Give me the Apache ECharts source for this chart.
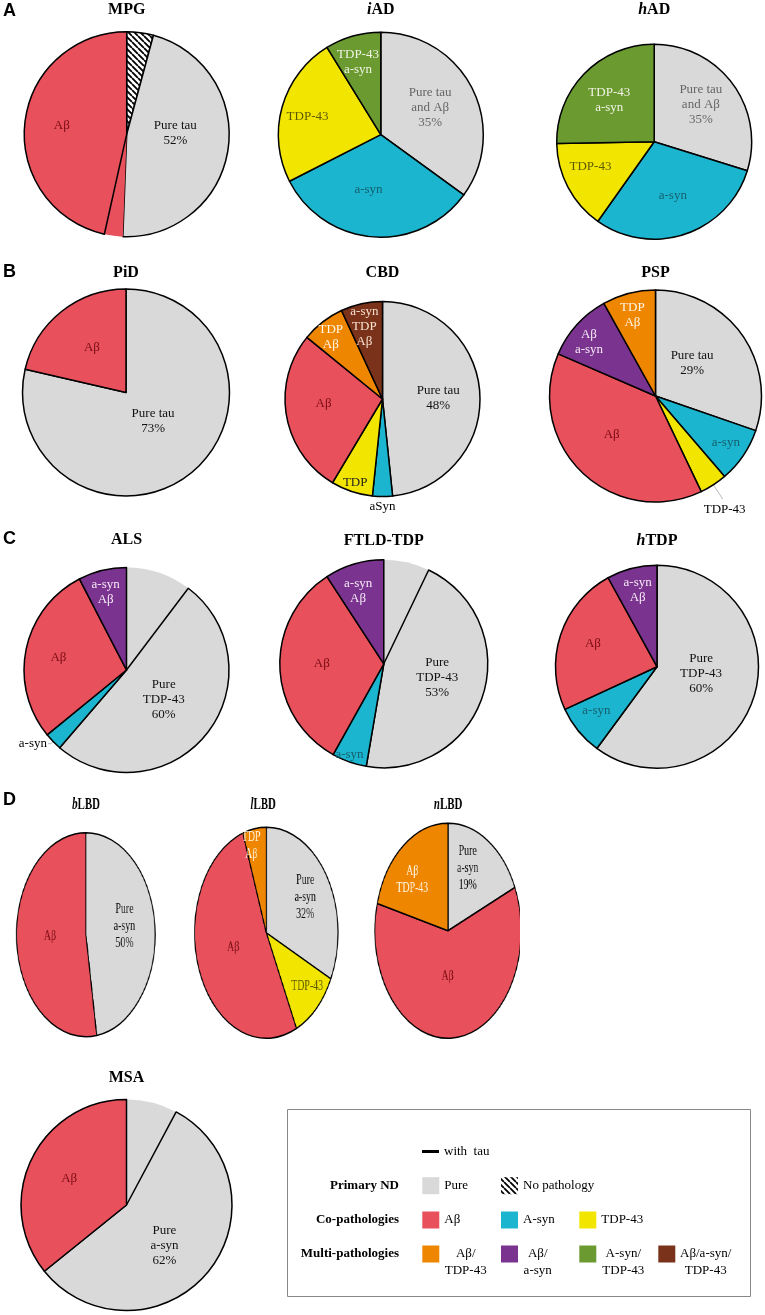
<!DOCTYPE html>
<html><head><meta charset="utf-8">
<script src="https://cdn.jsdelivr.net/npm/echarts@6/dist/echarts.min.js"></script>
<style>
html,body{margin:0;padding:0;background:#fff;}
#main{position:absolute;left:0;top:0;width:765px;height:1315px;}
#rowD{position:absolute;left:0;top:790px;width:765px;height:260px;transform:scaleX(0.68);transform-origin:0 0;}
</style></head><body>
<div id="main"></div><div id="rowD"></div>
<script>
// ---------------- DATA ----------------
const pieTitles = ['MPG','iAD','hAD','PiD','CBD','PSP','ALS','FTLD-TDP','hTDP','bLBD','lLBD','nLBD','MSA'];

const mpgKinds  = ['none','pure','ab','ab'];
const mpgValues = [4.2, 46.4, 2.9, 46.5];
const mpgTau    = [1,1,0,1];
const mpgLabels = ['', 'Pure tau\n52%', '', 'Aβ'];

const iadKinds  = ['pure','asyn','tdp','asyn_tdp'];
const iadValues = [35, 32.5, 23.7, 8.8];
const iadTau    = [1,1,1,1];
const iadLabels = ['Pure tau\nand Aβ\n35%','a-syn','TDP-43','TDP-43\na-syn'];

const hadKinds  = ['pure','asyn','tdp','asyn_tdp'];
const hadValues = [29.8, 30, 14.9, 25.3];
const hadTau    = [1,1,1,1];
const hadLabels = ['Pure tau\nand Aβ\n35%','a-syn','TDP-43','TDP-43\na-syn'];

const pidKinds  = ['pure','ab'];
const pidValues = [78.6, 21.4];
const pidTau    = [1,1];
const pidLabels = ['Pure tau\n73%','Aβ'];

const cbdKinds  = ['pure','asyn','tdp','ab','ab_tdp','ab_asyn_tdp'];
const cbdValues = [48.3, 3.3, 6.9, 27.3, 7.2, 6.9];
const cbdTau    = [1,1,1,1,1,1];
const cbdLabels = ['Pure tau\n48%','aSyn','TDP','Aβ','TDP\nAβ','a-syn\nTDP\nAβ'];

const pspKinds  = ['pure','asyn','tdp','ab','ab_asyn','ab_tdp'];
const pspValues = [30.3, 8.4, 4.2, 38.6, 10.4, 8.1];
const pspTau    = [1,1,1,1,1,1];
const pspLabels = ['Pure tau\n29%','a-syn','TDP-43','Aβ','Aβ\na-syn','TDP\nAβ'];

const alsKinds  = ['pure','pure','asyn','ab','ab_asyn'];
const alsValues = [10.3, 51, 2.8, 28.3, 7.6];
const alsTau    = [0,1,1,1,1];
const alsLabels = ['', 'Pure\nTDP-43\n60%','a-syn','Aβ','a-syn\nAβ'];

const ftldKinds  = ['pure','pure','asyn','ab','ab_asyn'];
const ftldValues = [7.1, 45.6, 5.4, 32.7, 9.2];
const ftldTau    = [0,1,1,1,1];
const ftldLabels = ['', 'Pure\nTDP-43\n53%','a-syn','Aβ','a-syn\nAβ'];

const htdpKinds  = ['pure','asyn','ab','ab_asyn'];
const htdpValues = [60.1, 8, 23.9, 8];
const htdpTau    = [1,1,1,1];
const htdpLabels = ['Pure\nTDP-43\n60%','a-syn','Aβ','a-syn\nAβ'];

const blbdKinds  = ['pure','ab'];
const blbdValues = [47.5, 52.5];
const blbdTau    = [1,1];
const blbdLabels = ['Pure\na-syn\n50%','Aβ'];

const llbdKinds  = ['pure','tdp','ab','ab_tdp'];
const llbdValues = [32.2, 10.9, 51.6, 5.3];
const llbdTau    = [1,1,1,1];
const llbdLabels = ['Pure\na-syn\n32%','TDP-43','Aβ','TDP\nAβ'];

const nlbdKinds  = ['pure','ab','ab_tdp'];
const nlbdValues = [18.4, 60.7, 20.9];
const nlbdTau    = [1,1,1];
const nlbdLabels = ['Pure\na-syn\n19%','Aβ','Aβ\nTDP-43'];

const msaKinds  = ['pure','pure','ab'];
const msaValues = [7.8, 56.4, 35.8];
const msaTau    = [0,1,1];
const msaLabels = ['', 'Pure\na-syn\n62%','Aβ'];

const legendRows = ['Primary ND','Co-pathologies','Multi-pathologies'];
const legendPrimary = [['pure','Pure'],['none','No pathology']];
const legendCo = [['ab','Aβ'],['asyn','A-syn'],['tdp','TDP-43']];
const legendMulti = [['ab_tdp','Aβ/\nTDP-43'],['ab_asyn','Aβ/\na-syn'],['asyn_tdp','A-syn/\nTDP-43'],['ab_asyn_tdp','Aβ/a-syn/\nTDP-43']];

// ---------------- STYLE ----------------
function hatch(){
  const c = document.createElement('canvas'); const s = 6; c.width = s; c.height = s;
  const g = c.getContext('2d'); g.fillStyle = '#fff'; g.fillRect(0,0,s,s);
  g.strokeStyle = '#000'; g.lineWidth = 1.8; g.beginPath();
  for (let k=-1;k<=1;k++){ g.moveTo(k*s,0); g.lineTo(k*s+s,s); }
  g.stroke(); return c;
}
const HATCH = {image: hatch(), repeat: 'repeat'};
const COLORS = {pure:'#d9d9d9', none:HATCH, ab:'#e8505b', asyn:'#1cb5cf', tdp:'#f2e600',
  ab_tdp:'#ef8600', ab_asyn:'#7a338f', asyn_tdp:'#6a9a30', ab_asyn_tdp:'#7a321a'};
const LCOLORS = {pure:'#111', none:'#000', ab:'#7a0c14', asyn:'#14606e', tdp:'#5e5a00',
  ab_tdp:'#fff6e6', ab_asyn:'#f6eaf6', asyn_tdp:'#f2f4e6', ab_asyn_tdp:'#f8e2d0'};
const SERIF = 'Liberation Serif';

// label nudges (pixels) relative to the library's inside-label anchor
const OFF = {
  mpg:[[0,0],[-5,-9],[0,0],[-11,-3]],
  iad:[[1,-2],[-8,1],[-21,-3],[-8,-20]],
  had:[[5,-6],[2,5],[-18,1],[-8,-5]],
  pid:[[-7,-14],[0,-2]],
  cbd:[[4,2],[0,56],[-11,34],[-8,-4],[-20,-21],[-7,-22]],
  psp:[[-9,0],[24,15],[-19,11],[-5,-2],[-25,-16],[-9,-27]],
  als:[[0,0],[-5,-4],[0,0],[-15,-1],[-8,-25]],
  ftld:[[0,0],[1,-3],[-16,39],[-7,-2],[-10,-20]],
  htdp:[[-7,-10],[-19,10],[-13,-6],[-6,-25]],
  msa:[[0,0],[-5,5],[-7,-2]],
  blbd:[[3,-4],[1,-3]],
  llbd:[[10,-6],[21,14],[3,-6],[-13,-32]],
  nlbd:[[-2,-15],[-5,-11],[-18,-6]]
};

function makePie(kinds, values, tau, labels, center, radius, offs, extra, labelColorOverride, fs){
  extra = extra || {}; fs = fs || [13, 15];
  return {
    type:'pie', center:center, radius:radius, startAngle:90, clockwise:true,
    avoidLabelOverlap:false, silent:true, animation:false,
    labelLayout:{hideOverlap:false},
    label:{show:true, position:'inside', fontFamily:SERIF, fontSize:fs[0], lineHeight:fs[1]},
    labelLine:{show:false},
    emphasis:{disabled:true},
    data: values.map((v,i)=>{
      const it = {value:v, name:kinds[i]+'_'+i,
        itemStyle:{color:COLORS[kinds[i]], borderColor:'#000', borderWidth: tau[i]?1.5:0},
        label:Object.assign({formatter: labels[i] || ' ', offset: offs[i],
          color:(labelColorOverride&&labelColorOverride[kinds[i]])||LCOLORS[kinds[i]]}, (extra[i]&&extra[i].label)||{})};
      if (extra[i] && extra[i].labelLine) it.labelLine = extra[i].labelLine;
      return it;
    })
  };
}

const titleFont = {fontFamily:SERIF, fontWeight:'bold', fontSize:16};
function titleText(t, x, y){
  const italicFirst = ['iAD','hAD','hTDP','bLBD','lLBD','nLBD'].indexOf(t) >= 0;
  return {type:'text', x:x, y:y, style:{
    text: italicFirst ? '{it|'+t[0]+'}{b|'+t.slice(1)+'}' : '{b|'+t+'}',
    rich:{it:Object.assign({fontStyle:'italic'}, titleFont), b:titleFont},
    align:'center', verticalAlign:'middle', fill:'#000'}};
}
function panelLetter(t, y){
  return {type:'text', x:3, y:y, style:{text:t, font:'bold 18px "Liberation Sans"', fill:'#000', align:'left', verticalAlign:'middle'}};
}

const mainSeries = [
  makePie(mpgKinds, mpgValues, mpgTau, mpgLabels, [126.7,134.2], 102.5, OFF.mpg),
  makePie(iadKinds, iadValues, iadTau, iadLabels, [380.8,134.7], 102.5, OFF.iad, null, {pure:'#666'}),
  makePie(hadKinds, hadValues, hadTau, hadLabels, [654.2,141.7], 97.5, OFF.had, null, {pure:'#666'}),
  makePie(pidKinds, pidValues, pidTau, pidLabels, [126,392.5], 103.5, OFF.pid),
  makePie(cbdKinds, cbdValues, cbdTau, cbdLabels, [382.5,399], 97.5, OFF.cbd,
    {1:{label:{color:'#000'}}}, {tdp:'#222'}),
  makePie(pspKinds, pspValues, pspTau, pspLabels, [655.5,396], 106, OFF.psp,
    {2:{label:{position:'outside', color:'#000', distanceToLabelLine:0}, labelLine:{show:true, length:17, length2:0, lineStyle:{color:'#bbb', width:1}}}}),
  makePie(alsKinds, alsValues, alsTau, alsLabels, [126.5,670], 102.5, OFF.als,
    {2:{label:{position:'outside', color:'#000', distanceToLabelLine:1}, labelLine:{show:true, length:3, length2:3, lineStyle:{color:'#bbb', width:1}}}}),
  makePie(ftldKinds, ftldValues, ftldTau, ftldLabels, [383.8,663.8], 104, OFF.ftld),
  makePie(htdpKinds, htdpValues, htdpTau, htdpLabels, [657,666.7], 101.5, OFF.htdp),
  makePie(msaKinds, msaValues, msaTau, msaLabels, [126.5,1205], 105.5, OFF.msa)
];

const titlePos = [[126.7,10],[380.8,10],[654.2,10],[126,273],[382.5,273],[655.5,273],[126.5,540],[383.8,541],[657,541]];
const gfx = [];
titlePos.forEach((p,i)=>gfx.push(titleText(pieTitles[i], p[0], p[1])));
gfx.push(titleText(pieTitles[12], 126.5, 1078));
gfx.push(panelLetter('A', 11), panelLetter('B', 272), panelLetter('C', 539), panelLetter('D', 800));

// legend
const lf = '13px "Liberation Serif"', lfb = 'bold 13px "Liberation Serif"';
gfx.push({type:'rect', shape:{x:287.5, y:1109.5, width:463, height:187}, style:{fill:'none', stroke:'#888', lineWidth:1}});
gfx.push({type:'line', shape:{x1:422, y1:1151.5, x2:439, y2:1151.5}, style:{stroke:'#000', lineWidth:3}});
gfx.push({type:'text', x:444, y:1152, style:{text:'with  tau', font:lf, fill:'#000', align:'left', verticalAlign:'middle'}});
const rowY = [1185.7, 1220, 1254];
legendRows.forEach((t,i)=>gfx.push({type:'text', x:399, y:rowY[i], style:{text:t, font:lfb, fill:'#000', align:'right', verticalAlign:'middle'}}));
const colX = [422.3, 501, 579.3, 658.3];
function sq(kind, col, row){
  return {type:'rect', shape:{x:colX[col], y:rowY[row]-8.5, width:17, height:17}, style:{fill:COLORS[kind]}};
}
legendPrimary.forEach((e,i)=>{ gfx.push(sq(e[0], i, 0)); gfx.push({type:'text', x:colX[i]+22, y:rowY[0], style:{text:e[1], font:lf, fill:'#000', align:'left', verticalAlign:'middle'}}); });
legendCo.forEach((e,i)=>{ gfx.push(sq(e[0], i, 1)); gfx.push({type:'text', x:colX[i]+22, y:rowY[1], style:{text:e[1], font:lf, fill:'#000', align:'left', verticalAlign:'middle'}}); });
const multiCx = [465.7, 537.7, 623.3, 705.7];
legendMulti.forEach((e,i)=>{ gfx.push(sq(e[0], i, 2)); gfx.push({type:'text', x:multiCx[i], y:rowY[2]-8.5, style:{text:e[1], font:lf, lineHeight:17, fill:'#000', align:'center', verticalAlign:'top'}}); });

const main = echarts.init(document.getElementById('main'), null, {renderer:'canvas'});
main.setOption({backgroundColor:'#fff', animation:false, series:mainSeries, graphic:gfx});

// row D (horizontally compressed like the original figure)
const rowD = echarts.init(document.getElementById('rowD'), null, {renderer:'canvas'});
rowD.setOption({animation:false,
  series:[
    makePie(blbdKinds, blbdValues, blbdTau, blbdLabels, [126.2,144.7], 102, OFF.blbd, null, null, [14.5,17]),
    makePie(llbdKinds, llbdValues, llbdTau, llbdLabels, [391.6,142.8], 105.5, OFF.llbd, null, null, [14.5,17]),
    makePie(nlbdKinds, nlbdValues, nlbdTau, nlbdLabels, [658.8,140.8], 107.5, OFF.nlbd, null, null, [14.5,17])
  ],
  graphic:[titleText(pieTitles[9], 126.5, 15), titleText(pieTitles[10], 387, 15), titleText(pieTitles[11], 659, 15)]
});
</script>
</body></html>
